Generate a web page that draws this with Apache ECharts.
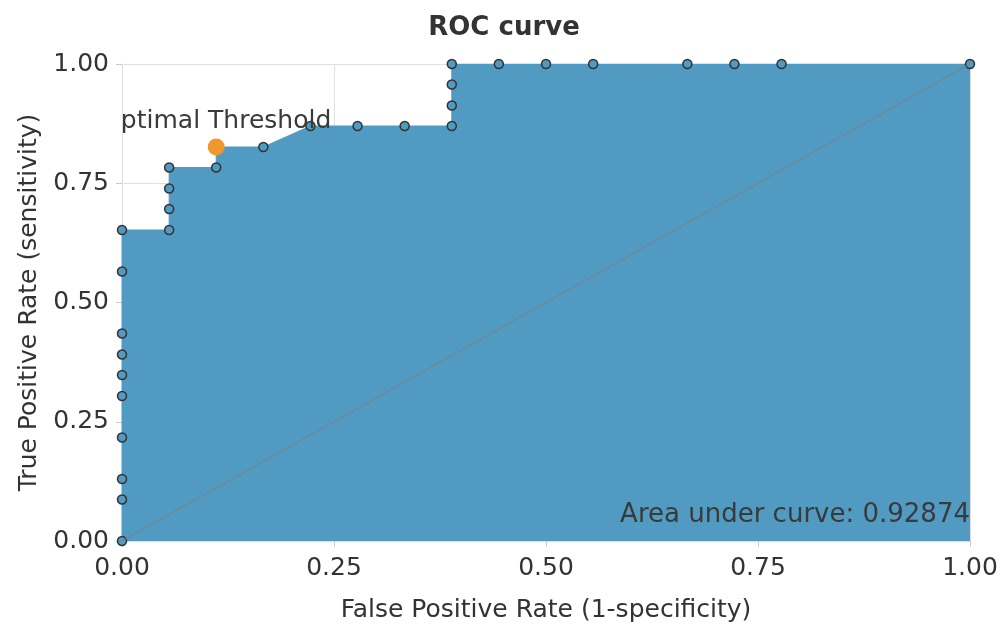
<!DOCTYPE html>
<html>
<head>
<meta charset="utf-8">
<script src="https://cdn.jsdelivr.net/npm/echarts@6/dist/echarts.min.js"></script>
<style>html,body{margin:0;padding:0;background:#fff}#c{width:1008px;height:628px}</style>
</head>
<body>
<div id="c"></div>
<script>
var fpr = [0,0,0,0,0,0,0,0,0,0, 0.0556,0.0556,0.0556,0.0556, 0.1111,0.1111, 0.1667, 0.2222, 0.2778, 0.3333, 0.3889,0.3889,0.3889,0.3889, 0.4444,0.5,0.5556,0.6667,0.7222,0.7778,1.0];
var tpr = [0,0.087,0.130,0.217,0.304,0.348,0.391,0.435,0.565,0.652, 0.652,0.696,0.739,0.783, 0.783,0.826, 0.826, 0.870, 0.870, 0.870, 0.870,0.913,0.957,1, 1,1,1,1,1,1,1];
var optimalPoint = [0.1111, 0.826];
var diagonal = [[0,0],[1,1]];
var tickLabels = ['0.00','0.25','0.50','0.75','1.00'];
var aucText = 'Area under curve: 0.92874';

var rocData = fpr.map(function(x,i){return [x,tpr[i]];});
var font = 'DejaVu Sans';
var chart = echarts.init(document.getElementById('c'), null, {renderer:'canvas'});
function fmt(v){ var i = Math.round(v*4); return tickLabels[i] !== undefined ? tickLabels[i] : ''; }
chart.setOption({
  animation:false,
  backgroundColor:'#fff',
  title:{text:'ROC curve', left:'center', top:10, textStyle:{fontFamily:font, fontSize:26, fontWeight:'bold', color:'#333'}},
  grid:{left:122, right:38, top:64, bottom:85},
  xAxis:{type:'value', min:0, max:1, interval:0.25,
    name:'False Positive Rate (1-specificity)', nameLocation:'middle', nameGap:57,
    nameTextStyle:{fontFamily:font, fontSize:25, color:'#333'},
    axisLine:{lineStyle:{color:'#ddd'}}, axisTick:{show:true, length:6, lineStyle:{color:'#ccc'}},
    axisLabel:{fontFamily:font, fontSize:25, color:'#333', margin:15, formatter:fmt},
    splitLine:{lineStyle:{color:'#e0e0e0'}}},
  yAxis:{type:'value', min:0, max:1, interval:0.25,
    name:'True Positive Rate (sensitivity)', nameLocation:'middle', nameGap:80,
    nameTextStyle:{fontFamily:font, fontSize:25, color:'#333'},
    axisLine:{show:true, lineStyle:{color:'#ddd'}}, axisTick:{show:true, length:6, lineStyle:{color:'#ccc'}},
    axisLabel:{fontFamily:font, fontSize:25, color:'#333', margin:13, formatter:fmt},
    splitLine:{lineStyle:{color:'#e0e0e0'}}},
  series:[
    {type:'line', data:rocData, z:2, symbol:'circle', symbolSize:9,
     lineStyle:{color:'#519bc3', width:1},
     itemStyle:{color:'#519bc3', borderColor:'#333', borderWidth:1.5},
     areaStyle:{color:'#519bc3', opacity:1}},
    {type:'line', data:diagonal, z:3, symbol:'none', lineStyle:{color:'#7f7f7f', width:1}},
    {type:'scatter', data:[optimalPoint], z:4, symbolSize:17, itemStyle:{color:'#f0982c', opacity:1},
     label:{show:true, position:'top', distance:4, formatter:'Optimal Threshold', fontFamily:font, fontSize:25, color:'#3a3a3a'}}
  ],
  graphic:[
    {type:'rect', z:100, shape:{x:80, y:104, width:40, height:36}, style:{fill:'#fff'}},
    {type:'text', z:100, right:38, top:502, style:{text:aucText, fontFamily:font, fontSize:26, fill:'#3a3a3a', textAlign:'right'}}
  ]
});
</script>
</body>
</html>
